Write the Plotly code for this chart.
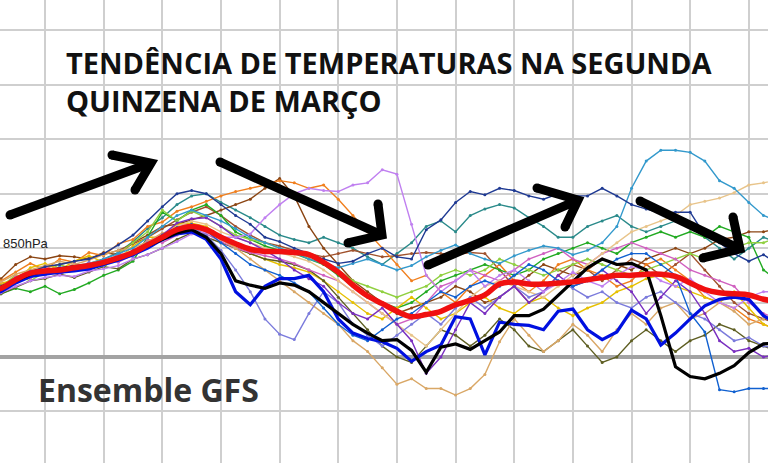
import numpy as np
import plotly.graph_objects as go

# forecast time axis: days, 6-hourly steps
days = list(np.arange(0, 13.75, 0.25))

# ensemble mean (red)
mean_t = [6.0, 6.3, 7.1, 7.7, 7.9, 8.0, 8.2, 8.4, 8.7, 9.1, 9.6, 10.3, 11.0, 11.7, 12.0, 11.7,
          11.0, 10.4, 9.9, 9.7, 9.7, 9.6, 9.4, 8.7, 7.8, 6.6, 5.6, 4.9, 4.2, 3.7, 3.9, 4.2,
          4.8, 5.2, 5.7, 6.7, 6.9, 6.7, 6.7, 6.8, 6.9, 7.1, 7.3, 7.5, 7.5, 7.6, 7.6, 7.4,
          6.8, 6.2, 5.9, 5.8, 5.7, 5.3, 5.1]

m01 = [6.2, 6.5, 7.0, 7.5, 7.8, 8.2, 8.0, 8.5, 9.0, 9.5, 10.0, 11.0, 12.0, 13.0, 13.5,
       13.0, 12.5, 11.8, 11.0, 10.5, 10.0, 9.6, 9.0, 8.6, 8.2, 8.6, 9.0, 8.5, 8.0, 8.4, 9.2, 9.8, 10.3,
       9.5, 9.0, 8.6, 9.3, 9.8, 10.2, 10.0, 9.4, 9.8,
       10.5, 12.0, 15.5, 18.0, 19.0, 19.0, 18.8, 18.0, 16.2, 15.5, 14.2, 13.0, 12.5]
m02 = [6.0, 6.4, 7.2, 7.8, 8.3, 8.5, 8.8, 9.0, 9.5, 10.3, 11.2, 12.5, 13.8, 15.0, 15.3,
       15.0, 14.0, 13.0, 12.2, 11.0, 10.6, 10.0, 9.5, 9.0, 8.6, 8.8, 9.5, 10.0, 9.2, 9.0,
       11.7, 12.6, 14.2, 15.2, 14.9, 15.5, 15.3, 14.8, 14.5, 15.0, 14.8, 14.8, 15.5, 14.8, 14.0,
       13.6, 13.2, 13.3, 13.3, 11.2, 10.5, 9.5, 8.8, 9.4, 8.5]
m03 = [5.6, 5.9, 6.5, 7.0, 7.3, 7.5, 7.4, 7.9, 8.1, 8.4, 9.0, 9.4, 10.0, 10.6, 11.3,
       11.5, 11.0, 11.0, 11.3, 12.8, 14.0, 15.0, 15.5, 15.3, 15.2, 15.8, 16.0, 17.2, 16.8, 12.2,
       7.5, 6.0, 7.0, 8.0, 6.5, 7.5, 8.0, 7.0, 6.0, 6.8, 7.8, 7.0, 6.5, 7.5, 8.3,
       8.0, 7.0, 6.5, 7.2, 6.0, 5.0, 4.5, 5.5, 6.0, 6.0]
m04 = [5.8, 6.0, 6.8, 7.4, 7.6, 7.8, 7.9, 8.1, 8.5, 8.9, 9.4, 10.0, 10.8, 11.3, 11.5,
       10.8, 9.0, 6.0, 4.8, 6.5, 7.2, 7.2, 7.5, 6.0, 3.5, 2.2, 1.7, 1.4, 0.8, -0.4,
       0.5, 1.1, 3.7, 3.5, 0.2, 3.2, 3.0, 2.9, 2.5, 4.2, 4.4, 2.5, 1.6, 2.3, 4.3,
       3.5, 1.1, 2.2, 3.5, 4.7, 5.3, 5.5, 5.3, 3.8, 3.0]
m05 = [6.1, 6.4, 7.0, 7.6, 7.9, 8.1, 8.3, 8.4, 8.6, 9.0, 9.6, 10.2, 10.8, 11.4, 11.7,
       11.0, 9.5, 7.0, 6.6, 6.3, 6.8, 6.6, 6.0, 5.0, 4.0, 3.0, 2.2, 1.5, 1.6, 0.6,
       -1.4, 0.9, 1.2, 0.7, 1.5, 2.3, 3.8, 3.8, 4.4, 5.7, 7.0, 8.2, 9.0, 8.5, 8.6,
       8.0, 3.8, -0.9, -1.8, -2.0, -1.5, -0.8, 0.4, 1.2, 1.3]
m06 = [6.5, 6.9, 7.6, 8.0, 8.4, 8.8, 8.5, 8.9, 9.4, 9.8, 10.0, 10.6, 11.4, 11.6, 12.0,
       11.5, 10.8, 10.0, 9.0, 8.0, 7.0, 6.0, 5.0, 4.0, 3.0, 1.5, 0.5, -1.0, -2.5, -2.0,
       -2.9, -2.9, -3.5, -2.9, -1.6, 1.4, 3.5, 2.0, 0.5, 1.5, 3.0, 2.0, 0.5, 2.5, 4.0,
       3.0, 4.5, 5.0, 3.5, 4.0, 5.0, 4.2, 3.0, 3.5, 4.0]
m07 = [6.4, 6.0, 7.2, 7.9, 7.5, 8.3, 8.0, 8.7, 8.4, 9.5, 9.2, 10.5, 10.7, 11.5, 11.9,
       11.2, 9.8, 8.0, 6.0, 3.5, 2.1, 1.6, 4.0, 6.0, 5.0, 3.0, 2.0, 1.0, 2.0, 3.0,
       4.0, 3.0, 4.5, 5.5, 4.5, 5.5, 6.5, 5.5, 6.0, 7.0, 6.3, 5.5, 6.0, 5.0, 4.5,
       5.5, 6.0, 5.0, 4.0, 3.5, 2.5, 1.5, 1.8, 1.0, 0.8]
m08 = [5.7, 6.1, 6.9, 7.5, 7.8, 7.6, 8.2, 8.0, 8.6, 9.0, 9.8, 10.4, 11.2, 12.3, 12.7,
       12.8, 12.0, 11.0, 10.5, 9.8, 9.0, 8.0, 7.2, 6.5, 5.0, 4.0, 3.5, 4.5, 3.0, 1.5,
       -1.5, 0.0, 2.5, 5.0, 4.0, 5.5, 6.5, 5.0, 6.0, 7.5, 6.5, 7.0, 8.0, 7.0, 6.0,
       4.0, 5.5, 7.0, 6.0, 4.0, 1.5, 0.5, 0.8, 0.0, 0.2]
m09 = [6.0, 7.0, 7.8, 8.6, 8.0, 9.0, 8.7, 9.6, 9.3, 10.4, 10.8, 12.0, 12.4, 13.4, 13.8,
       14.3, 14.8, 15.2, 15.5, 15.8, 16.2, 16.0, 15.5, 15.8, 14.5, 13.0, 11.5, 10.0, 8.5, 7.0,
       7.5, 6.0, 5.0, 6.5, 7.5, 8.5, 7.0, 6.0, 7.0, 8.5, 9.0, 8.0, 7.5, 6.5, 7.0,
       8.5, 9.0, 8.0, 7.0, 5.5, 5.0, 4.5, 3.5, 3.0, 2.5]
m10 = [6.5, 7.2, 8.5, 9.2, 9.0, 9.3, 9.2, 9.0, 9.6, 9.4, 10.5, 11.2, 12.0, 12.2, 12.6,
       13.0, 13.5, 14.0, 14.5, 15.5, 16.4, 14.8, 12.0, 10.0, 8.5, 7.0, 6.0, 5.0, 4.0, 4.5,
       5.0, 5.5, 6.5, 6.0, 5.0, 5.5, 6.5, 7.5, 8.5, 8.0, 7.5, 8.0, 9.0, 8.5, 8.0,
       9.0, 9.5, 10.0, 9.5, 10.0, 10.8, 11.0, 11.5, 11.5, 11.8]
m11 = [5.5, 5.8, 6.3, 6.0, 6.5, 5.8, 6.2, 6.8, 7.5, 8.0, 8.8, 11.0, 13.3, 12.5, 13.5,
       14.0, 13.0, 11.5, 10.8, 10.2, 9.8, 9.5, 9.0, 8.5, 7.5, 6.5, 5.5, 5.0, 4.5, 5.0,
       6.0, 7.0, 7.5, 8.0, 8.5, 8.0, 7.5, 8.0, 9.0, 9.5, 10.0, 10.5, 10.0, 9.5, 10.5,
       11.0, 11.5, 11.0, 11.5, 11.0, 12.0, 11.5, 11.0, 8.0, 7.0]
m12 = [5.9, 6.5, 7.5, 7.0, 7.8, 8.5, 8.0, 8.6, 8.2, 9.5, 10.5, 11.5, 13.5, 12.5, 13.4,
       12.8, 12.0, 11.2, 10.8, 10.5, 10.0, 9.5, 9.2, 8.8, 8.0, 7.0, 6.5, 6.0, 5.5, 6.0,
       6.5, 7.5, 8.0, 7.5, 8.0, 9.0, 8.5, 8.0, 7.5, 8.0, 8.5, 9.0, 8.5, 8.0, 7.5,
       8.0, 8.5, 9.0, 9.5, 9.0, 9.5, 10.0, 10.5, 10.5, 11.0]
m13 = [6.4, 6.8, 7.0, 8.2, 8.6, 8.0, 8.8, 9.3, 8.7, 9.0, 10.2, 11.0, 11.0, 12.2, 12.3,
       12.0, 11.0, 10.0, 9.5, 9.0, 8.5, 8.2, 7.8, 7.0, 6.0, 5.0, 4.0, 3.5, 4.5, 5.5,
       4.5, 3.5, 4.0, 5.0, 5.5, 4.5, 4.0, 5.0, 5.5, 4.5, 3.8, 4.5, 5.0, 6.0, 6.5,
       7.2, 7.5, 6.5, 6.0, 5.5, 5.0, 6.0, 4.5, 3.0, 2.5]
m14 = [5.8, 6.2, 6.9, 7.3, 7.8, 8.0, 8.4, 8.6, 9.0, 9.6, 10.6, 11.8, 12.8, 14.0, 14.8,
       15.0, 14.2, 13.5, 12.8, 12.0, 11.2, 10.8, 10.5, 11.0, 10.5, 10.0, 9.2, 8.5, 9.5, 10.5,
       12.0, 12.5, 11.5, 13.0, 13.6, 14.0, 13.7, 12.8, 12.0, 11.0, 11.0, 12.0, 12.5, 13.0, 12.0,
       11.5, 12.0, 12.5, 12.0, 11.0, 10.0, 9.0, 10.0, 11.0, 10.5]
m15 = [5.6, 5.8, 6.4, 7.0, 7.2, 7.6, 7.3, 7.8, 8.3, 8.1, 9.0, 9.4, 10.0, 10.8, 11.4,
       11.0, 10.5, 10.0, 9.5, 9.0, 8.8, 8.5, 8.0, 7.0, 5.5, 4.0, 2.5, 1.0, 0.0, -0.5,
       1.0, 2.5, 2.0, 1.0, 2.0, 3.5, 2.5, 1.0, 0.5, 1.5, 2.5, 1.0, -0.5, 0.0, 1.5,
       2.5, 1.5, 0.5, 1.5, 2.0, 3.0, 2.5, 1.5, 1.0, 0.5]
m16 = [6.0, 6.3, 7.0, 7.6, 7.9, 8.1, 8.2, 8.4, 8.8, 9.2, 9.7, 10.4, 11.2, 11.9, 12.2,
       11.6, 10.5, 9.5, 8.5, 8.0, 7.5, 6.8, 6.0, 4.5, 3.0, 2.0, 1.5, 2.5, 3.5, 4.0,
       5.0, 6.0, 5.5, 6.5, 7.0, 6.5, 7.5, 8.5, 8.0, 7.0, 6.5, 7.0, 8.0, 9.0, 9.5,
       9.5, 8.5, 7.5, 4.0, 2.3, -3.0, -3.2, -2.9, -2.9, -2.9]
m17 = [6.3, 6.0, 7.4, 7.2, 8.3, 7.6, 8.6, 8.0, 9.0, 8.7, 9.4, 10.8, 10.5, 11.2, 11.8,
       11.3, 10.6, 10.0, 9.6, 9.3, 9.0, 8.6, 8.0, 7.5, 7.0, 6.0, 5.0, 4.0, 3.0, 3.5,
       5.0, 6.5, 7.0, 8.0, 7.5, 7.0, 8.0, 9.0, 9.5, 10.0, 9.0, 8.5, 9.5, 10.0, 10.5,
       10.0, 9.5, 9.0, 8.0, 7.5, 7.0, 6.5, 5.0, 4.0, 3.5]
m18 = [6.1, 6.5, 7.2, 7.7, 8.0, 8.2, 8.4, 8.6, 8.9, 9.3, 9.8, 10.5, 11.3, 12.0, 12.5,
       12.2, 11.5, 11.0, 10.5, 10.0, 9.6, 9.2, 8.8, 8.0, 7.0, 6.0, 5.0, 4.0, 3.0, 2.0,
       1.0, 2.5, 4.0, 5.5, 6.5, 7.0, 6.5, 6.0, 5.5, 6.5, 7.5, 8.5, 9.5, 10.5, 11.5,
       12.0, 12.5, 13.0, 14.0, 14.3, 14.6, 15.1, 15.8, 16.0, 16.3]
m19 = [6.2, 6.6, 7.3, 7.9, 8.2, 8.5, 8.8, 9.1, 9.4, 9.8, 10.4, 11.0, 11.8, 12.6, 13.3,
       13.8, 13.0, 12.0, 11.2, 10.5, 10.2, 9.8, 9.5, 9.2, 9.5, 9.8, 9.5, 9.2, 9.3, 9.5,
       9.6, 9.5, 9.4, 9.6, 9.5, 8.0, 6.5, 5.0, 6.0, 7.5, 8.5, 8.0, 7.0, 8.0, 9.0,
       8.5, 7.5, 8.5, 9.5, 8.0, 6.5, 5.0, 4.0, 3.5, 3.0]

thin_members = [
    (m14, "#2a8a8a"), (m19, "#a0522d"), (m10, "#8b4513"), (m09, "#f07f1e"),
    (m11, "#22aa22"), (m12, "#90d040"), (m13, "#e6c000"), (m15, "#5e5e22"),
    (m17, "#d060c0"), (m18, "#e8c48a"), (m06, "#d9a766"), (m07, "#7b7bdc"),
    (m08, "#7a2fc0"), (m03, "#c080f0"), (m16, "#1060d0"), (m01, "#3399cc"),
    (m02, "#1f3a93"),
]
thick_members = [(m04, "#0010e0"), (m05, "#000000")]

fig = go.Figure()
for vals, col in thin_members:
    fig.add_trace(go.Scatter(x=days, y=vals, mode="lines+markers",
                             line=dict(color=col, width=1.4),
                             marker=dict(color=col, size=3), showlegend=False,
                             hoverinfo="skip"))
for vals, col in thick_members:
    fig.add_trace(go.Scatter(x=days, y=vals, mode="lines",
                             line=dict(color=col, width=3.2), showlegend=False,
                             hoverinfo="skip"))
fig.add_trace(go.Scatter(x=days, y=mean_t, mode="lines",
                         line=dict(color="#f01010", width=5.5, shape="spline"),
                         showlegend=False, hoverinfo="skip"))

W, H = 768, 463


def P(px, py):
    return f"{px / W:.4f},{1 - py / H:.4f}"


arrows = [
    ((10, 215), (151, 163), (112, 155), (135, 190)),
    ((220, 162), (382, 235), (378, 204), (348, 243)),
    ((428, 265), (578, 200), (537, 188), (565, 227)),
    ((640, 201), (740, 249), (733, 217), (703, 258)),
]
shapes = []
for start, tip, b1, b2 in arrows:
    shapes.append(dict(type="path", xref="paper", yref="paper", layer="above",
                       path=f"M{P(*start)} L{P(*tip)}",
                       line=dict(color="black", width=9)))
    shapes.append(dict(type="path", xref="paper", yref="paper", layer="above",
                       path=f"M{P(*b1)} L{P(*tip)} L{P(*b2)}",
                       line=dict(color="black", width=9)))
    for pt in (start, b1, b2):
        x0, y0 = pt[0] / W, 1 - pt[1] / H
        shapes.append(dict(type="circle", xref="paper", yref="paper", layer="above",
                           x0=x0 - 4.5 / W, x1=x0 + 4.5 / W, y0=y0 - 4.5 / H, y1=y0 + 4.5 / H,
                           fillcolor="black", line=dict(width=0)))

fig.update_layout(
    width=W, height=H, margin=dict(l=0, r=0, t=0, b=0),
    paper_bgcolor="white", plot_bgcolor="white",
    xaxis=dict(range=[0.2327, 13.327], dtick=1, tick0=0, showgrid=True,
               gridcolor="#cfcfcf", gridwidth=2, showticklabels=False,
               zeroline=False, showline=False, ticks=""),
    yaxis=dict(range=[-9.74, 32.8], dtick=5, tick0=0, showgrid=True,
               gridcolor="#cfcfcf", gridwidth=2, showticklabels=False,
               zeroline=True, zerolinecolor="#a3a3a3", zerolinewidth=4,
               showline=False, ticks=""),
    shapes=shapes,
    annotations=[
        dict(text="<b>TENDÊNCIA DE TEMPERATURAS NA SEGUNDA<br>QUINZENA DE MARÇO</b>",
             xref="paper", yref="paper", x=64 / W, y=1 - 82 / H,
             xanchor="left", yanchor="middle", align="left", showarrow=False,
             font=dict(family="Open Sans", size=29, color="#111111")),
        dict(text="<b>Ensemble GFS</b>", xref="paper", yref="paper",
             x=36 / W, y=1 - 389 / H, xanchor="left", yanchor="middle",
             showarrow=False, font=dict(family="Open Sans", size=32, color="#333333")),
        dict(text="850hPa", xref="paper", yref="paper", x=1 / W, y=1 - 243 / H,
             xanchor="left", yanchor="middle", showarrow=False,
             font=dict(family="Liberation Sans", size=13, color="#222222")),
    ],
)

fig.write_html("out.html", config={"displayModeBar": False})
